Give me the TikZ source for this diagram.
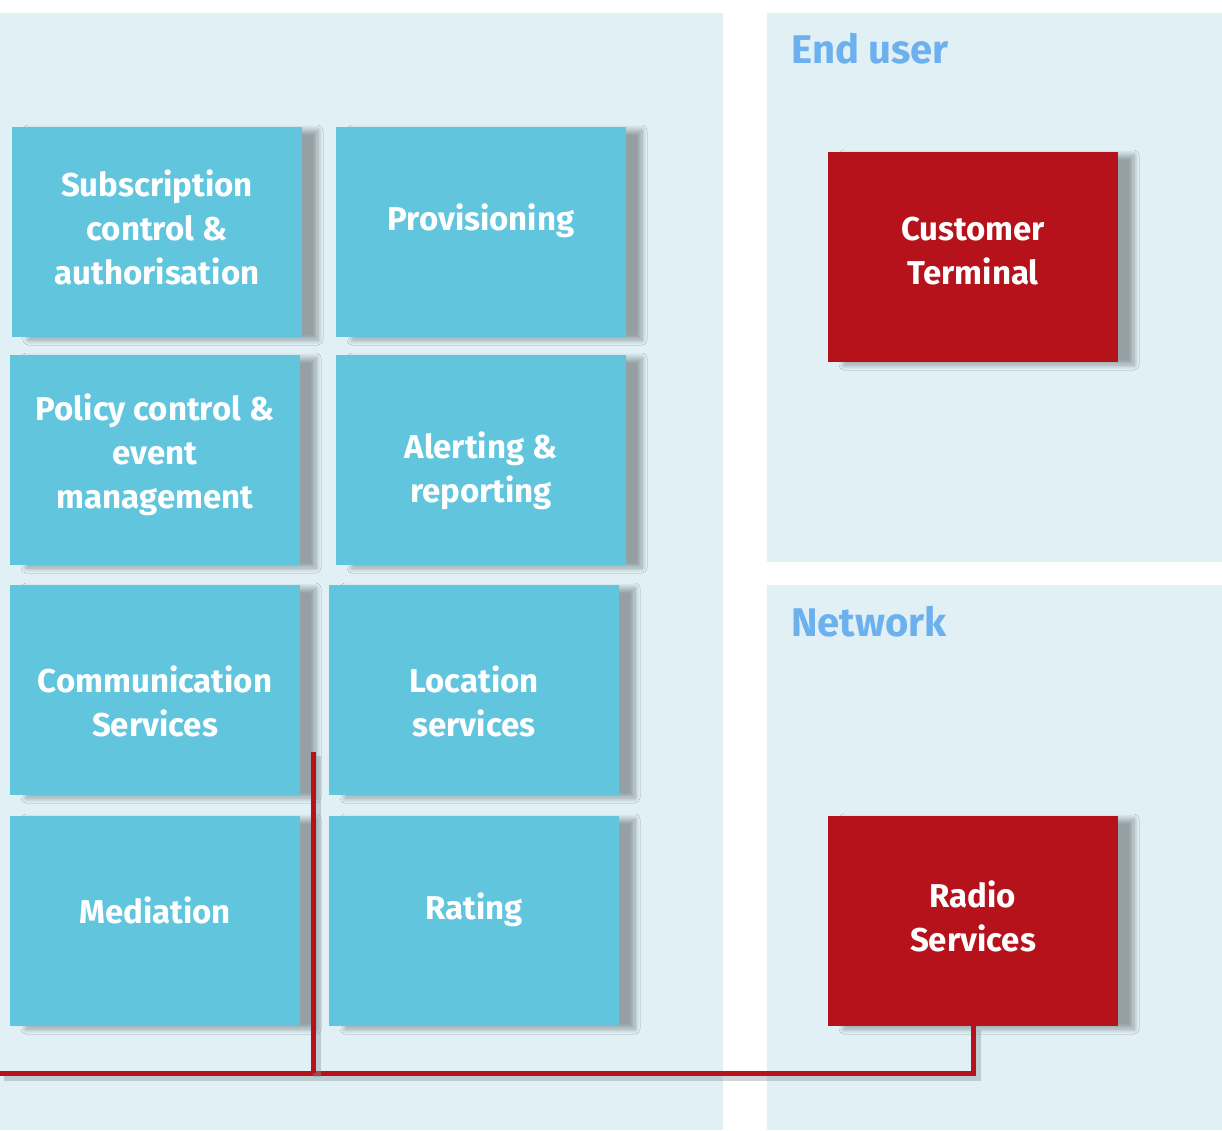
\documentclass[tikz,border=0pt]{standalone}
\usepackage{fontspec}
\setmainfont{Fira Sans}
\usetikzlibrary{shadows.blur}

\definecolor{panelbg}{HTML}{E0F0F5}
\definecolor{tilecyan}{HTML}{62C5DE}
\definecolor{tilered}{HTML}{B5121B}
\definecolor{titleblue}{HTML}{6CB0EE}
\definecolor{shadowgrey}{HTML}{8A969C}

\tikzset{every picture/.style={line width=0.75pt}}
\tikzset{
  tile/.style={rectangle,fill=tilecyan,minimum width=290pt,minimum height=210pt,inner sep=0pt,
    blur shadow={shadow xshift=16pt,shadow yshift=-3pt,shadow blur radius=5pt,shadow blur steps=12,
      shadow opacity=33,shadow blur extra rounding=0pt}},
  redtile/.style={tile,fill=tilered},
  txt/.style={text=white,font=\fontsize{33}{44}\selectfont\bfseries,align=center},
  heading/.style={text=titleblue,font=\fontsize{40}{48}\selectfont\bfseries,anchor=base west,inner sep=0pt},
  link/.style={draw=tilered,line width=5pt,
    preaction={draw=shadowgrey,draw opacity=.4,line width=8pt,transform canvas={shift={(4pt,-4pt)}}}}
}

\begin{document}
\begin{tikzpicture}[x=1pt,y=-1pt]
			\useasboundingbox (0,0) rectangle (1222,1130);
			\fill [panelbg] (0,13) rectangle (723,1130);
			\fill [panelbg] (767,13) rectangle (1222,562);
			\fill [panelbg] (767,585) rectangle (1222,1130);

			\node [heading](enduser) at (791,63) {End user};
			\node [heading](network) at (791,636) {Network};

			\node [tile](sub) at (157,232) {};
			\node [tile](prov) at (481,232) {};
			\node [tile](pol) at (155,460) {};
			\node [tile](alert) at (481,460) {};
			\node [tile](comm) at (155,690) {};
			\node [tile](loc) at (474,690) {};
			\node [tile](med) at (155,921) {};
			\node [tile](rate) at (474,921) {};
			\node [redtile](term) at (973,257) {};
			\node [redtile](radio) at (973,921) {};

			\node [txt](sub-t) at ([yshift=5pt]sub) {Subscription\\control \&\\authorisation};
			\node [txt](prov-t) at ([yshift=11pt]prov) {Provisioning};
			\node [txt](pol-t) at ([yshift=5pt]pol) {Policy control \&\\event\\management};
			\node [txt](alert-t) at ([yshift=-11pt]alert) {Alerting \&\\reporting};
			\node [txt](comm-t) at ([yshift=-11pt]comm) {Communication\\Services};
			\node [txt](loc-t) at ([yshift=-11pt]loc) {Location\\services};
			\node [txt](med-t) at ([yshift=11pt]med) {Mediation};
			\node [txt](rate-t) at ([yshift=11pt]rate) {Rating};
			\node [txt](term-t) at ([yshift=6pt]term) {Customer\\Terminal};
			\node [txt](radio-t) at ([yshift=5pt]radio) {Radio\\Services};

			\coordinate (west) at (0,1073);
			\coordinate (riser) at (313,752);
			\draw [link] (radio.south) |- (west);
			\draw [link] (riser) -- (riser |- west);
		\end{tikzpicture}
\end{document}
